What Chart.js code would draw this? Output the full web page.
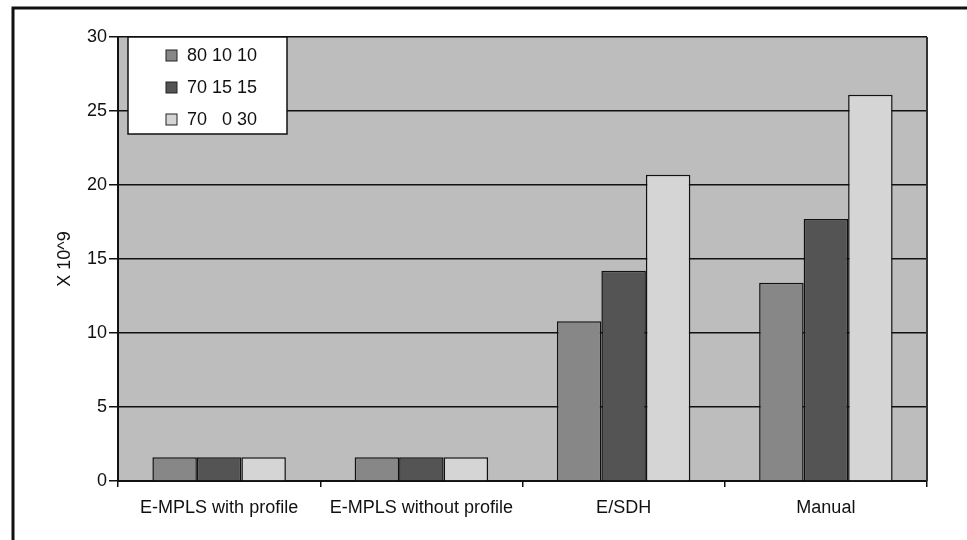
<!DOCTYPE html>
<html>
<head>
<meta charset="utf-8">
<script src="https://cdn.jsdelivr.net/npm/chart.js@4"></script>
<style>
  html, body { margin: 0; padding: 0; background: #fff; }
  #wrap { width: 967px; height: 540px; position: relative; }
</style>
</head>
<body>
<div id="wrap"><canvas id="chart"></canvas></div>
<script>
const categories = ["E-MPLS with profile", "E-MPLS without profile", "E/SDH", "Manual"];
const seriesNames = ["80 10 10", "70 15 15", "70   0 30"];
const mix80_10_10 = [1.6, 1.6, 10.8, 13.4];
const mix70_15_15 = [1.6, 1.6, 14.2, 17.7];
const mix70_0_30 = [1.6, 1.6, 20.7, 26.1];
const yTicks = [0, 5, 10, 15, 20, 25, 30];

const colors = ["#878787", "#545454", "#d5d5d5"];
const font = "Liberation Sans, Arial, sans-serif";

// gray plot area, frame lines and the legend box
const decor = {
  id: "decor",
  beforeDraw(chart) {
    const ctx = chart.ctx;
    const a = chart.chartArea;
    ctx.save();
    ctx.fillStyle = "#fff";
    ctx.fillRect(0, 0, chart.width, chart.height);
    ctx.fillStyle = "#bdbdbd";
    ctx.fillRect(a.left, a.top, a.right - a.left, a.bottom - a.top);
    // outer figure frame (top and left)
    ctx.strokeStyle = "#111";
    ctx.lineWidth = 3;
    ctx.beginPath();
    ctx.moveTo(13, chart.height);
    ctx.lineTo(13, 8);
    ctx.lineTo(chart.width, 8);
    ctx.stroke();
    ctx.restore();
  },
  afterDraw(chart) {
    const ctx = chart.ctx;
    const a = chart.chartArea;
    ctx.save();
    ctx.strokeStyle = "#333";
    ctx.lineWidth = 2;
    ctx.beginPath();
    ctx.moveTo(a.right, a.top);
    ctx.lineTo(a.right, a.bottom);
    ctx.stroke();
    // legend
    const x0 = 128, y0 = 37, w = 159, h = 97;
    ctx.fillStyle = "#fff";
    ctx.fillRect(x0, y0, w, h);
    ctx.strokeStyle = "#111";
    ctx.lineWidth = 1.5;
    ctx.strokeRect(x0, y0, w, h);
    ctx.font = "18px " + font;
    ctx.textBaseline = "middle";
    chart.data.datasets.forEach((ds, i) => {
      const cy = y0 + 18 + i * 32;
      ctx.fillStyle = ds.backgroundColor;
      ctx.fillRect(x0 + 38, cy - 5, 11, 11);
      ctx.strokeStyle = "#222";
      ctx.lineWidth = 1;
      ctx.strokeRect(x0 + 38, cy - 5, 11, 11);
      ctx.fillStyle = "#111";
      ctx.fillText(ds.label, x0 + 59, cy + 1);
    });
    ctx.restore();
  }
};

const seriesData = [mix80_10_10, mix70_15_15, mix70_0_30];

new Chart(document.getElementById("chart"), {
  type: "bar",
  data: {
    labels: categories,
    datasets: seriesData.map((d, i) => ({
      label: seriesNames[i],
      data: d,
      backgroundColor: colors[i],
      borderColor: "#111",
      borderWidth: 1.5,
      categoryPercentage: 0.66,
      barPercentage: 1.0
    }))
  },
  options: {
    responsive: true,
    maintainAspectRatio: false,
    animation: false,
    layout: { padding: { left: 0, right: 40, top: 37, bottom: 0 } },
    plugins: {
      legend: { display: false },
      tooltip: { enabled: false }
    },
    scales: {
      x: {
        grid: {
          offset: true,
          drawOnChartArea: false,
          color: "#111",
          lineWidth: 1.5,
          tickLength: 6
        },
        border: { color: "#111", width: 2 },
        ticks: { color: "#111", font: { family: font, size: 18 }, padding: 10, maxRotation: 0 },
        afterFit(scale) { scale.height = 59; }
      },
      y: {
        min: 0,
        max: 30,
        afterBuildTicks(scale) { scale.ticks = yTicks.map(v => ({ value: v })); },
        grid: { color: "#111", lineWidth: 1.5, tickLength: 9 },
        border: { color: "#111", width: 2 },
        ticks: { color: "#111", font: { family: font, size: 18 }, padding: 2 },
        title: { display: true, text: "X 10^9", color: "#111", font: { family: font, size: 18 }, padding: { top: 54, bottom: 0 } },
        afterFit(scale) { scale.width = 118; }
      }
    }
  },
  plugins: [decor]
});
</script>
</body>
</html>
